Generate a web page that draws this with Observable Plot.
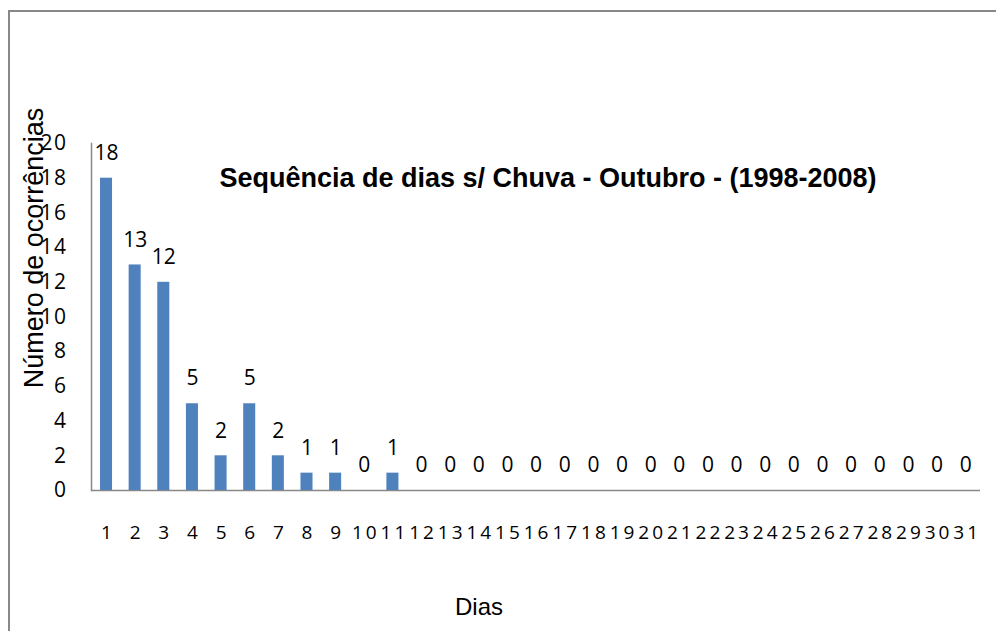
<!DOCTYPE html>
<html>
<head>
<meta charset="utf-8">
<script src="https://cdn.jsdelivr.net/npm/d3@7"></script>
<script src="https://cdn.jsdelivr.net/npm/@observablehq/plot@0.6"></script>
<style>
  html, body { margin: 0; padding: 0; background: #fff; overflow: hidden; }
  #wrap { position: relative; width: 996px; height: 631px; overflow: hidden; }
  #border { position: absolute; left: 8px; top: 10px; width: 1100px; height: 800px;
            border-left: 2.5px solid #888; border-top: 2.5px solid #888; box-sizing: border-box; }
  #chart { position: absolute; left: 0; top: 0; }
  #chart g[aria-label="x-axis tick label"] text { letter-spacing: 3px; }
  #chart g[aria-label="y-axis tick label"] text { letter-spacing: 1.5px; }
</style>
</head>
<body>
<div id="wrap"><div id="border"></div><div id="chart"></div></div>
<script>
const days = [1,2,3,4,5,6,7,8,9,10,11,12,13,14,15,16,17,18,19,20,21,22,23,24,25,26,27,28,29,30,31];
const counts = [18,13,12,5,2,5,2,1,1,0,1,0,0,0,0,0,0,0,0,0,0,0,0,0,0,0,0,0,0,0,0];
const yTicks = [0,2,4,6,8,10,12,14,16,18,20];
const title = "Sequência de dias s/ Chuva - Outubro - (1998-2008)";
const xLabel = "Dias";
const yLabel = "Número de ocorrências";

const data = days.map((d, i) => ({day: d, count: counts[i]}));

const chart = Plot.plot({
  width: 996,
  height: 631,
  marginLeft: 91,
  marginRight: 16,
  marginTop: 143,
  marginBottom: 141,
  style: {fontFamily: "'Open Sans', sans-serif", color: "#000", background: "transparent", overflow: "visible"},
  x: {domain: days, padding: 0.58, range: [83.4, 987.8], round: false},
  y: {domain: [0, 20]},
  marks: [
    Plot.axisX({tickSize: 0, tickPadding: 35, fontSize: 19, label: null, dx: 1.5}),
    Plot.axisY({ticks: yTicks, tickSize: 0, tickPadding: 24, fontSize: 21, label: null}),
    Plot.frame({anchor: "left", stroke: "#888", strokeWidth: 1.5}),
    Plot.ruleY([0], {stroke: "#888", strokeWidth: 1.5}),
    Plot.barY(data, {x: "day", y: "count", fill: "#4F81BD"}),
    Plot.text(data, {x: "day", y: "count", text: d => String(d.count), dy: -25, fontSize: 21, lineAnchor: "middle", fill: "#000"}),
    Plot.text([title], {frameAnchor: "top", dx: 12, dy: 35, fontSize: 27, fontWeight: "bold", fontFamily: "'Liberation Sans', Arial, sans-serif", lineAnchor: "middle", textAnchor: "middle", fill: "#000"}),
    Plot.text([xLabel], {frameAnchor: "bottom", dx: -57, dy: 117, fontSize: 24, fontFamily: "'Liberation Sans', Arial, sans-serif", lineAnchor: "middle", textAnchor: "middle", fill: "#000"}),
    Plot.text([yLabel], {frameAnchor: "left", rotate: -90, dx: -57, dy: -69, fontSize: 27, fontFamily: "'Liberation Sans', Arial, sans-serif", lineAnchor: "middle", textAnchor: "middle", fill: "#000"})
  ]
});
document.getElementById("chart").appendChild(chart);
</script>
</body>
</html>
